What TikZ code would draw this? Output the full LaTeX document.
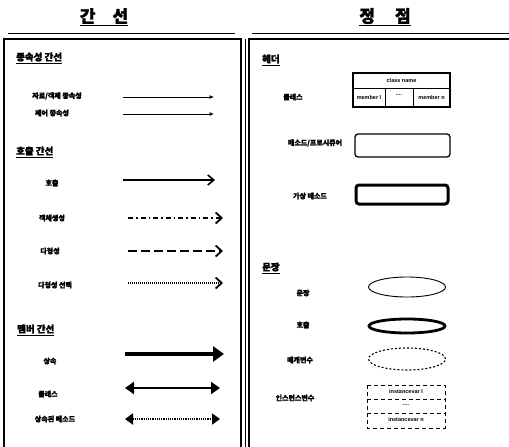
\documentclass[tikz,border=0pt]{standalone}
\usepackage{fontspec}
\usetikzlibrary{arrows.meta,shapes.geometric}
\newfontfamily\cjk{Noto Sans CJK KR}[FakeBold=1.5]
\newfontfamily\latn{Liberation Sans}
\tikzset{
  lbl/.style={font=\cjk\bfseries\fontsize{7}{8}\selectfont, inner sep=0pt},
  hdr/.style={font=\cjk\bfseries\fontsize{9.5}{10}\selectfont, inner sep=0pt, anchor=west},
  ttl/.style={font=\cjk\bfseries\fontsize{17}{19}\selectfont, inner sep=0pt},
  small/.style={font=\latn\bfseries\fontsize{5.5}{6}\selectfont, inner sep=0pt},
  panel/.style={line width=1.2pt},
  thinarr/.style={line width=0.8pt, -{Latex[length=4.5pt,width=4pt]}},
  callarr/.style={line width=1.6pt, -{Straight Barb[length=6pt,width=10pt,line width=1.6pt]}},
  barbarr/.style={line width=1.4pt, -{Straight Barb[length=6pt,width=11pt,line width=1.8pt]}},
}
\begin{document}
\begin{tikzpicture}[x=1pt,y=-1pt]
\useasboundingbox[fill=white] (0,0) rectangle (509,447);
% titles
\node[ttl] (t1) at (104,17) {\underline{간\hspace{17pt}선}};
\node[ttl] (t2) at (385,17) {\underline{정\hspace{20pt}점}};
% panels
\draw[line width=0.6pt] (8,33) -- (235,33);
\draw[line width=0.6pt] (252,33) -- (509,33);
\draw[panel] (4,447) -- (4,39) -- (241,39) -- (241,447);
\draw[line width=0.8pt] (245,39) -- (245,447);
\draw[panel] (509,39) -- (249,39) -- (249,447);

% ---- left panel ----
\node[hdr] (h1) at (16,58) {\underline{종속성 간선}};
\node[lbl] (l1) at (57,96) {자료/객체 종속성};
\coordinate (a1s) at (123,97); \coordinate (a1e) at (214,97);
\draw[thinarr] (a1s) -- (a1e);
\node[lbl] (l2) at (52,113) {제어 종속성};
\coordinate (a2s) at (123,114); \coordinate (a2e) at (214,114);
\draw[thinarr] (a2s) -- (a2e);

\node[hdr] (h2) at (16,152) {\underline{호출 간선}};
\node[lbl] (l3) at (52,183) {호출};
\coordinate (a3s) at (123,180); \coordinate (a3e) at (215,180);
\draw[callarr] (a3s) -- (a3e);
\node[lbl] (l4) at (52,218) {객체생성};
\coordinate (a4s) at (128,218); \coordinate (a4e) at (223,218);
\draw[barbarr, dash pattern=on 5pt off 3pt on 1.5pt off 3pt] (a4s) -- (a4e);
\node[lbl] (l5) at (50,251) {다형성};
\coordinate (a5s) at (128,251); \coordinate (a5e) at (223,251);
\draw[barbarr, dash pattern=on 9pt off 4pt] (a5s) -- (a5e);
\node[lbl] (l6) at (55,285) {다형성 선택};
\coordinate (a6s) at (128,283); \coordinate (a6e) at (223,283);
\draw[barbarr, line width=1.1pt, dash pattern=on 1pt off 1pt] (a6s) -- (a6e);

\node[hdr] (h3) at (17,330) {\underline{멤버 간선}};
\node[lbl] (l7) at (50,361) {상속};
\coordinate (a7s) at (125,354); \coordinate (a7e) at (224,354);
\draw[line width=4pt, -{Triangle[length=11pt,width=15pt]}] (a7s) -- (a7e);
\node[lbl] (l8) at (48,394) {클래스};
\coordinate (a8s) at (125,388); \coordinate (a8e) at (220,388);
\draw[line width=2.6pt, {Triangle[length=9pt,width=12pt]}-{Triangle[length=9pt,width=12pt]}] (a8s) -- (a8e);
\node[lbl] (l9) at (55,419) {상속된 메소드};
\coordinate (a9s) at (125,419); \coordinate (a9e) at (220,419);
\draw[line width=1.8pt, dash pattern=on 1.2pt off 1pt, {Triangle[length=8pt,width=11pt]}-{Triangle[length=8pt,width=11pt]}] (a9s) -- (a9e);

% ---- right panel ----
\node[hdr] (h4) at (262,60) {\underline{헤더}};
\node[lbl] (r1) at (293,97) {클래스};
\draw[line width=1.2pt] (353,73) rectangle (450,107);
\draw[line width=0.9pt] (353,88) -- (450,88) (385,88) -- (385,107) (413,88) -- (413,107);
\node[small] (c1) at (401.5,80.5) {class name};
\node[small] (c2) at (369,98) {member l};
\node[small] (c3) at (399,95) {....};
\node[small] (c4) at (431.5,98) {member n};

\node[lbl] (r2) at (315,143) {메소드/프로시쥬어};
\node[draw, line width=1.3pt, rounded corners=3pt, minimum width=95pt, minimum height=23pt] (b1) at (402.5,145.5) {};
\node[lbl] (r3) at (310,196) {가상 메소드};
\node[draw, line width=3pt, rounded corners=3pt, minimum width=92pt, minimum height=19pt] (b2) at (402,194.5) {};

\node[hdr] (h5) at (262,268) {\underline{문장}};
\node[lbl] (r4) at (303,293) {문장};
\node[draw, ellipse, line width=0.9pt, minimum width=77pt, minimum height=20pt] (e1) at (407,287) {};
\node[lbl] (r5) at (303,325) {호출};
\node[draw, ellipse, line width=2.8pt, minimum width=76pt, minimum height=14pt] (e2) at (407,326) {};
\node[lbl] (r6) at (300,360) {매개변수};
\node[draw, ellipse, line width=1.1pt, dash pattern=on 2pt off 2pt, minimum width=77pt, minimum height=22pt] (e3) at (407,359) {};
\node[lbl] (r7) at (295,398) {인스턴스변수};
\draw[line width=0.5pt, dash pattern=on 4pt off 3pt] (367,385) rectangle (445,428);
\draw[line width=0.5pt, dash pattern=on 4pt off 3pt] (367,399) -- (445,399) (367,413) -- (445,413);
\node[small] (i1) at (406,392) {instancevar I};
\node[small] (i2) at (406,405) {....};
\node[small] (i3) at (406,420) {instancevar n};
\end{tikzpicture}
\end{document}
